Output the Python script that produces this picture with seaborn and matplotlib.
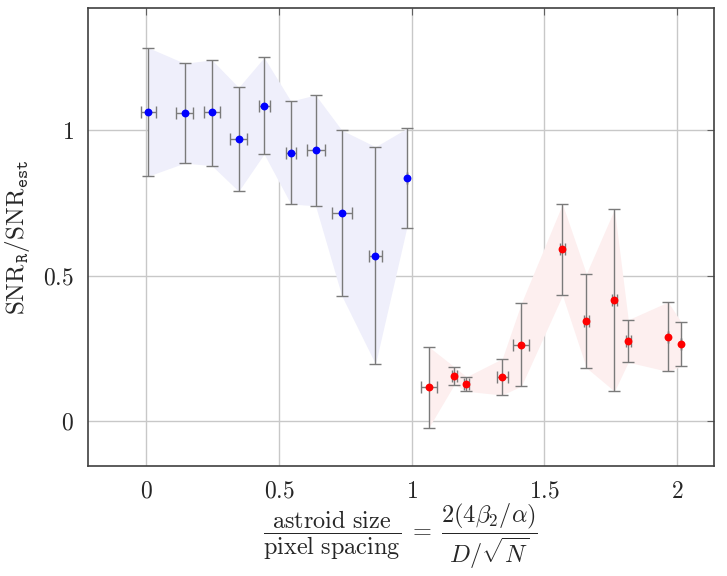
import numpy as np
import pandas as pd
import seaborn as sns
import matplotlib
matplotlib.use('Agg')
import matplotlib.pyplot as plt

# datos
x_azul = [0.007, 0.144, 0.247, 0.348, 0.444, 0.545, 0.638, 0.737, 0.864, 0.982]
y_azul = [1.062, 1.058, 1.062, 0.968, 1.084, 0.922, 0.931, 0.714, 0.568, 0.836]
sup_azul = [1.284, 1.230, 1.242, 1.147, 1.250, 1.100, 1.121, 1.000, 0.943, 1.006]
inf_azul = [0.842, 0.887, 0.878, 0.790, 0.918, 0.746, 0.740, 0.430, 0.196, 0.665]
xerr_azul = [0.028, 0.032, 0.030, 0.032, 0.021, 0.018, 0.034, 0.038, 0.025, 0.0]

x_rojo = [1.065, 1.161, 1.207, 1.342, 1.414, 1.569, 1.659, 1.765, 1.817, 1.967, 2.016]
y_rojo = [0.117, 0.155, 0.127, 0.151, 0.262, 0.590, 0.345, 0.415, 0.276, 0.289, 0.265]
sup_rojo = [0.255, 0.186, 0.152, 0.214, 0.405, 0.746, 0.506, 0.728, 0.348, 0.409, 0.341]
inf_rojo = [-0.023, 0.125, 0.102, 0.089, 0.120, 0.432, 0.183, 0.102, 0.202, 0.170, 0.188]
xerr_rojo = [0.030, 0.010, 0.010, 0.020, 0.030, 0.010, 0.010, 0.010, 0.010, 0.0, 0.0]

xticks = [0, 0.5, 1, 1.5, 2]
yticks = [0, 0.5, 1]

sns.set_style('whitegrid')
plt.rcParams['font.family'] = ['DejaVu Serif']
plt.rcParams['mathtext.fontset'] = 'cm'

fig = plt.figure(figsize=(7.27, 5.76), dpi=100)
ax = fig.add_axes([0.121, 0.191, 0.861, 0.795])

for xs, ys, sup, inf, xe, color, relleno in [
        (x_azul, y_azul, sup_azul, inf_azul, xerr_azul, 'blue', '#efeffb'),
        (x_rojo, y_rojo, sup_rojo, inf_rojo, xerr_rojo, 'red', '#fdefef')]:
    xs = np.array(xs); ys = np.array(ys)
    sup = np.array(sup); inf = np.array(inf)
    ax.fill_between(xs, inf, sup, color=relleno, lw=0, zorder=1)
    ax.errorbar(xs, ys, yerr=[ys - inf, sup - ys], xerr=xe, fmt='none',
                ecolor='#7a7a7a', elinewidth=1.0, capsize=4, capthick=1.0, zorder=2)
    df = pd.DataFrame({'x': xs, 'y': ys})
    sns.scatterplot(data=df, x='x', y='y', color=color, s=32, edgecolor=color,
                    linewidth=0, ax=ax, zorder=3)

ax.set_xlim(-0.22, 2.14)
ax.set_ylim(-0.155, 1.42)
ax.set_xticks(xticks)
ax.set_yticks(yticks)
ax.set_xticklabels(['$%g$' % t for t in xticks], fontsize=17)
ax.set_yticklabels(['$%g$' % t for t in yticks], fontsize=17)
ax.grid(True, color='#c8c8c8', lw=1)
ax.tick_params(direction='in', length=5, color='#606060', top=True, right=True, pad=10)
for s in ax.spines.values():
    s.set_color('#404040')
    s.set_linewidth(1.2)

ax.set_xlabel(r'$\dfrac{\mathrm{astroid\ size}}{\mathrm{pixel\ spacing}} \;=\; \dfrac{2(4\beta_2/\alpha)}{D/\sqrt{N}}$',
              fontsize=17.5)
ax.xaxis.set_label_coords(0.5, -0.155, transform=ax.transAxes)
ax.xaxis.label.set_va('center')
ax.set_ylabel(r'$\mathrm{SNR}_{\mathtt{R}}/\mathrm{SNR}_{\mathtt{est}}$', fontsize=18, labelpad=8)

plt.savefig('out.png', dpi=100)
